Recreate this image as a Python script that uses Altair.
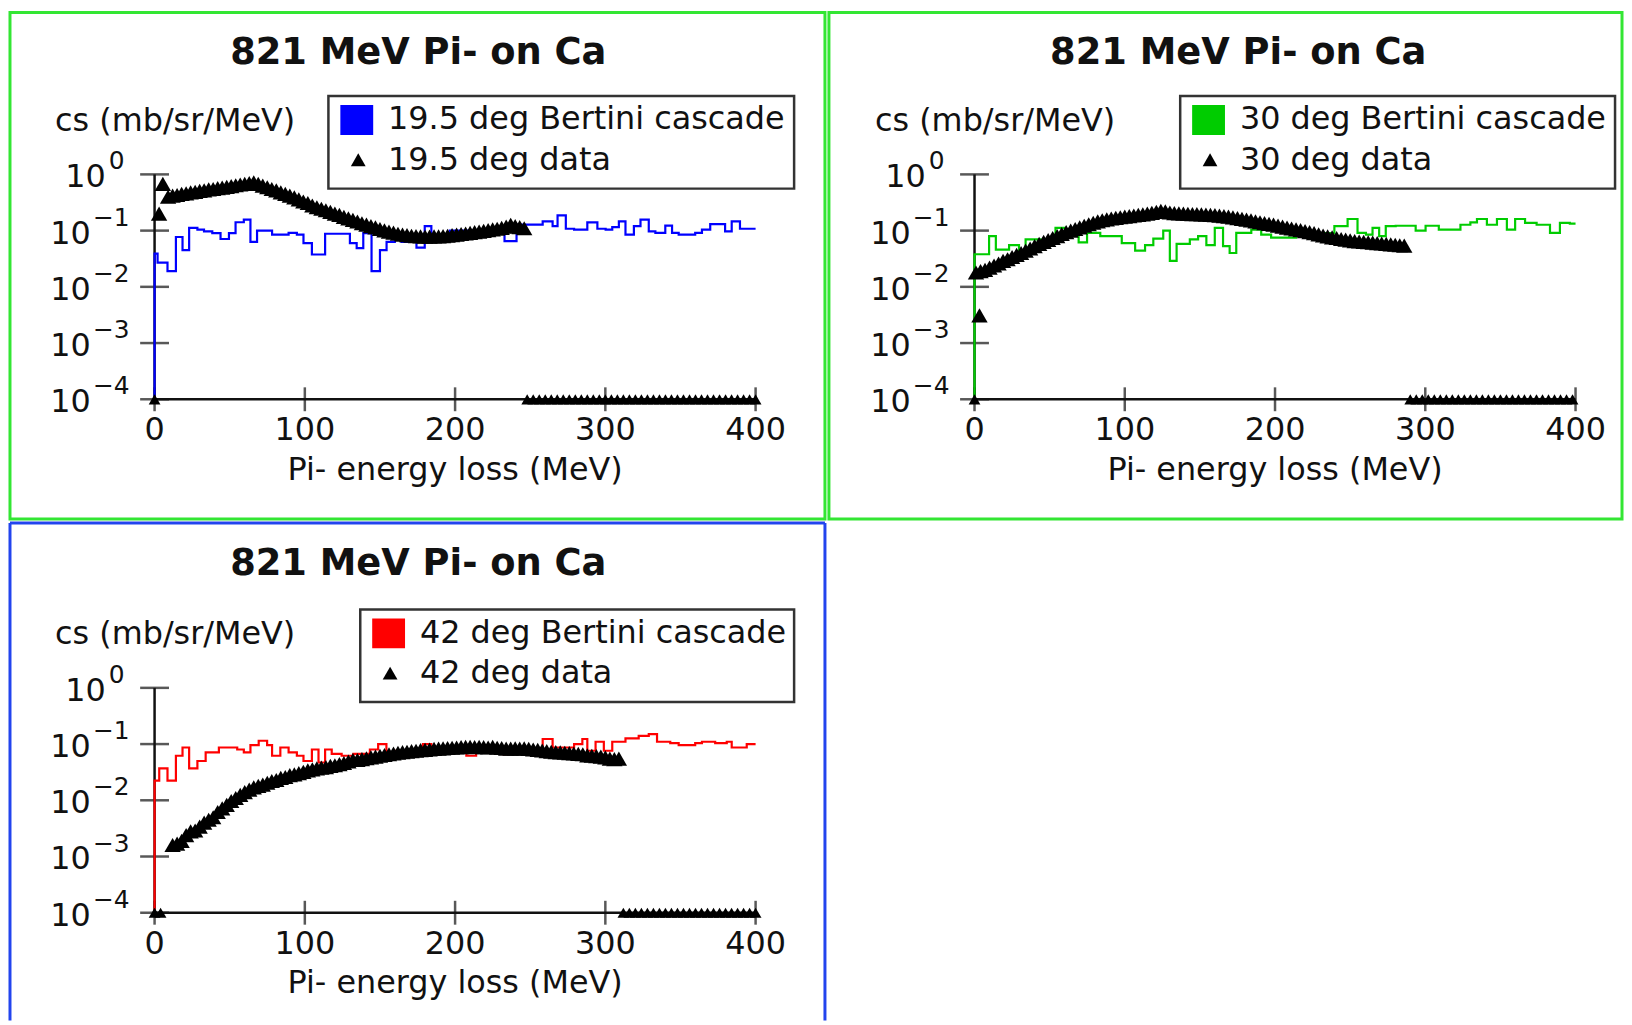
import altair as alt
import pandas as pd

FONT = "DejaVu Sans"
INK = "#111111"

TITLE = "821 MeV Pi- on Ca"
Y_TITLE = "cs (mb/sr/MeV)"
X_TITLE = "Pi- energy loss (MeV)"
X_TICKS = [0, 100, 200, 300, 400]
Y_EXPONENTS = [0, -1, -2, -3, -4]
FLOOR = 1e-4
TOP = 1.0

# ---------------- panel 1: 19.5 deg ----------------
P1_HIST_LABEL = "19.5 deg Bertini cascade"
P1_DATA_LABEL = "19.5 deg data"
P1_HIST_EDGES = [0, 2, 8.6, 14.2, 18.6, 23, 28.5, 32.9, 38.4, 43.9,
                 49.5, 53.9, 59.4, 63.8, 68.2, 78.2, 89.2, 94.7, 99.1, 104.7,
                 113.5, 130, 134.5, 138.9, 144.4, 150, 154.4, 159.9, 164.3, 169.8,
                 174.3, 179.8, 184.2, 190.8, 196.5, 232.9, 240.9, 258.3, 264.9, 268.2,
                 273.7, 279.2, 288, 294.7, 300.2, 304.6, 309, 313.4, 319, 323.4,
                 328.9, 333.3, 339.9, 344.4, 348.8, 359.8, 364.3, 369.8, 379.7, 384.1,
                 389.6]
P1_HIST_VALUES = [0.039, 0.027, 0.019, 0.077, 0.045, 0.112, 0.104, 0.097, 0.09, 0.071,
                  0.09, 0.141, 0.157, 0.063, 0.1, 0.085, 0.091, 0.085, 0.06, 0.0376,
                  0.088, 0.06, 0.049, 0.09, 0.019, 0.045, 0.063, 0.091, 0.063, 0.085,
                  0.05, 0.12, 0.07, 0.085, 0.1, 0.065, 0.128, 0.146, 0.12, 0.187,
                  0.108, 0.104, 0.14, 0.108, 0.104, 0.115, 0.146, 0.085, 0.12, 0.157,
                  0.097, 0.091, 0.123, 0.091, 0.085, 0.091, 0.104, 0.13, 0.097, 0.146,
                  0.108]
P1_DATA_X = [3, 5.5, 9, 12, 15, 18, 21, 24, 27, 30, 33, 36, 39, 42, 45, 48, 51, 54, 57, 60,
             63, 66, 69, 72, 75, 78, 81, 84, 87, 90, 93, 96, 99, 102, 105, 108, 111, 114,
             117, 120, 123, 126, 129, 132, 135, 138, 141, 144, 147, 150, 153, 156, 159,
             162, 165, 168, 171, 174, 177, 180, 183, 186, 189, 192, 195, 198, 201, 204,
             207, 210, 213, 216, 219, 222, 225, 228, 231, 234, 237, 240, 243, 246]
P1_DATA_Y = [0.2, 0.68, 0.40, 0.42, 0.43, 0.45, 0.46, 0.48, 0.49, 0.51, 0.52, 0.54, 0.55,
             0.57, 0.58, 0.60, 0.62, 0.64, 0.66, 0.68, 0.70, 0.72, 0.68, 0.63, 0.59, 0.55,
             0.52, 0.48, 0.45, 0.42, 0.39, 0.36, 0.33, 0.31, 0.28, 0.26, 0.245, 0.23,
             0.215, 0.20, 0.19, 0.175, 0.165, 0.155, 0.145, 0.135, 0.128, 0.12, 0.114,
             0.107, 0.101, 0.096, 0.092, 0.088, 0.085, 0.083, 0.081, 0.08, 0.079, 0.078,
             0.078, 0.079, 0.079, 0.08, 0.081, 0.083, 0.085, 0.087, 0.089, 0.091, 0.094,
             0.096, 0.099, 0.102, 0.105, 0.108, 0.112, 0.118, 0.127, 0.12, 0.115, 0.11]
P1_FLOOR_X = [0, 248, 252, 256, 260, 264, 268, 272, 276, 280, 284, 288, 292, 296, 300,
              304, 308, 312, 316, 320, 324, 328, 332, 336, 340, 344, 348, 352, 356, 360,
              364, 368, 372, 376, 380, 384, 388, 392, 396, 400]

# ---------------- panel 2: 30 deg ----------------
P2_HIST_LABEL = "30 deg Bertini cascade"
P2_DATA_LABEL = "30 deg data"
P2_HIST_EDGES = [0, 9.7, 14.2, 23, 29.6, 34, 43.9, 53.9, 60.5, 69.3,
                 74.9, 83.7, 98, 106.9, 113.5, 119, 125.6, 130, 134.5, 143.3,
                 148.8, 154.3, 159.9, 165.4, 169.8, 174.2, 184.2, 190.8, 197.4, 214,
                 239.5, 248.3, 254.9, 260.5, 264.9, 269.3, 273.7, 280.3, 293.6, 300.2,
                 309, 323.4, 330, 334.4, 341, 347.7, 354.3, 359.8, 366.4, 374.1,
                 383, 389.6, 396.2]
P2_HIST_VALUES = [0.038, 0.08, 0.046, 0.055, 0.044, 0.07, 0.068, 0.112, 0.085, 0.062,
                  0.091, 0.08, 0.06, 0.044, 0.055, 0.072, 0.1, 0.029, 0.058, 0.07,
                  0.08, 0.055, 0.112, 0.053, 0.04, 0.091, 0.104, 0.085, 0.075, 0.09,
                  0.12, 0.161, 0.091, 0.085, 0.112, 0.08, 0.12, 0.122, 0.1, 0.122,
                  0.104, 0.127, 0.14, 0.161, 0.127, 0.161, 0.104, 0.161, 0.137, 0.127,
                  0.091, 0.137, 0.133]
P2_DATA_X = [3.3, 1, 4, 7, 10, 13, 16, 19, 22, 25, 28, 31, 34, 37, 40, 43, 46, 49, 52, 55,
             58, 61, 64, 67, 70, 73, 76, 79, 82, 85, 88, 91, 94, 97, 100, 103, 106, 109,
             112, 115, 118, 121, 124, 127, 130, 133, 136, 139, 142, 145, 148, 151, 154,
             157, 160, 163, 166, 169, 172, 175, 178, 181, 184, 187, 190, 193, 196, 199,
             202, 205, 208, 211, 214, 217, 220, 223, 226, 229, 232, 235, 238, 241, 244,
             247, 250, 253, 256, 259, 262, 265, 268, 271, 274, 277, 280, 283, 286]
P2_DATA_Y = [0.0031, 0.018, 0.019, 0.020, 0.022, 0.024, 0.026, 0.029, 0.031, 0.034, 0.037,
             0.040, 0.044, 0.048, 0.053, 0.058, 0.063, 0.068, 0.074, 0.08, 0.087,
             0.094, 0.10, 0.107, 0.114, 0.122, 0.13, 0.138, 0.146, 0.153, 0.158,
             0.164, 0.168, 0.173, 0.177, 0.181, 0.186, 0.19, 0.195, 0.20, 0.207,
             0.215, 0.225, 0.22, 0.21, 0.205, 0.202, 0.2, 0.198, 0.197, 0.196,
             0.195, 0.193, 0.19, 0.188, 0.185, 0.181, 0.177, 0.172, 0.167, 0.162,
             0.157, 0.152, 0.146, 0.141, 0.136, 0.132, 0.128, 0.123, 0.118, 0.113,
             0.109, 0.105, 0.102, 0.098, 0.094, 0.09, 0.086, 0.082, 0.079, 0.076,
             0.074, 0.071, 0.069, 0.067, 0.065, 0.064, 0.063, 0.062, 0.061, 0.06,
             0.059, 0.058, 0.057, 0.056, 0.055, 0.054]
P2_FLOOR_X = [0, 290, 294, 298, 302, 306, 310, 314, 318, 322, 326, 330, 334, 338, 342,
              346, 350, 354, 358, 362, 366, 370, 374, 378, 382, 386, 390, 394, 398]

# ---------------- panel 3: 42 deg ----------------
P3_HIST_LABEL = "42 deg Bertini cascade"
P3_DATA_LABEL = "42 deg data"
P3_HIST_EDGES = [0, 3.1, 8.6, 14.2, 18.6, 23, 28.5, 34, 42.8, 55,
                 59.4, 63.8, 69.3, 74.9, 78.2, 83.7, 89.2, 94.7, 99.1, 104.7,
                 109.1, 113.5, 117.9, 124.5, 132.3, 143.3, 148.8, 154.3, 158.8, 178.6,
                 184.2, 207.5, 214, 232, 236, 258.3, 264.9, 279.2, 284.7, 288,
                 293.5, 299, 304.6, 313.4, 322.2, 328.9, 334.4, 343.2, 348.8, 359.8,
                 364.3, 373.1, 380.8, 384.1, 394.1]
P3_HIST_VALUES = [0.0224, 0.037, 0.0224, 0.062, 0.087, 0.037, 0.05, 0.071, 0.087, 0.08,
                  0.071, 0.096, 0.1145, 0.096, 0.062, 0.087, 0.071, 0.062, 0.05, 0.08,
                  0.047, 0.08, 0.067, 0.062, 0.067, 0.08, 0.1, 0.071, 0.076, 0.1,
                  0.075, 0.062, 0.08, 0.066, 0.085, 0.123, 0.087, 0.1, 0.123, 0.076,
                  0.11, 0.076, 0.11, 0.126, 0.14, 0.15, 0.11, 0.104, 0.096, 0.104,
                  0.11, 0.104, 0.11, 0.087, 0.1]
P3_DATA_X = [12, 15, 18, 21, 24, 27, 30, 33, 36, 39, 42, 45, 48, 51, 54, 57, 60, 63, 66,
             69, 72, 75, 78, 81, 84, 87, 90, 93, 96, 99, 102, 105, 108, 111, 114, 117,
             120, 123, 126, 129, 132, 135, 138, 141, 144, 147, 150, 153, 156, 159, 162,
             165, 168, 171, 174, 177, 180, 183, 186, 189, 192, 195, 198, 201, 204, 207,
             210, 213, 216, 219, 222, 225, 228, 231, 234, 237, 240, 243, 246, 249, 252,
             255, 258, 261, 264, 267, 270, 273, 276, 279, 282, 285, 288, 291, 294, 297,
             300, 303, 306, 309]
P3_DATA_Y = [0.0016, 0.0017, 0.0019, 0.0024, 0.0028, 0.0029, 0.0034, 0.004, 0.0045, 0.005,
             0.0062, 0.0072, 0.0083, 0.0097, 0.011, 0.0125, 0.014, 0.0155, 0.017, 0.018,
             0.019, 0.0205, 0.022, 0.023, 0.025, 0.026, 0.028, 0.029, 0.0305, 0.032,
             0.034, 0.0355, 0.037, 0.038, 0.039, 0.041, 0.042, 0.044, 0.046, 0.049,
             0.052, 0.052, 0.054, 0.056, 0.058, 0.06, 0.062, 0.064, 0.066, 0.068,
             0.07, 0.072, 0.073, 0.075, 0.076, 0.078, 0.079, 0.08, 0.082, 0.083,
             0.084, 0.085, 0.086, 0.087, 0.088, 0.089, 0.089, 0.088, 0.089, 0.088,
             0.087, 0.089, 0.086, 0.085, 0.083, 0.083, 0.084, 0.083, 0.084, 0.082,
             0.08, 0.079, 0.077, 0.075, 0.073, 0.072, 0.071, 0.07, 0.069, 0.068,
             0.067, 0.066, 0.063, 0.062, 0.061, 0.06, 0.058, 0.055, 0.054, 0.055]
P3_FLOOR_X = [0, 4, 312, 316, 320, 324, 328, 332, 336, 340, 344, 348, 352, 356, 360,
              364, 368, 372, 376, 380, 384, 388, 392, 396, 400]

PX_PER_MEV = 1.51
PX_PER_DECADE = 56.5
FS = 32


def text_layer(text, x, y, size, weight="normal", align="left"):
    return alt.Chart(pd.DataFrame({"t": [text]})).mark_text(
        align=align, baseline="middle", font=FONT, fontSize=size,
        fontWeight=weight, color=INK
    ).encode(x=alt.value(x), y=alt.value(y), text="t:N")


def panel(W, H, x0, y0, hist_edges, hist_vals, color, data_x, data_y, floor_x,
          hist_label, data_label, leg_left, leg_right, border):
    xs = alt.Scale(type="linear", domain=[-x0 / PX_PER_MEV, (W - x0) / PX_PER_MEV],
                   nice=False, zero=False)
    ys = alt.Scale(type="log", domain=[10 ** (-(H - y0) / PX_PER_DECADE),
                                       10 ** (y0 / PX_PER_DECADE)], nice=False)

    def X(f):
        return alt.X(f, scale=xs, axis=None)

    def Y(f):
        return alt.Y(f, scale=ys, axis=None)

    def XD(v):
        return alt.XDatum(v, scale=xs, axis=None)

    def YD(v):
        return alt.YDatum(v, scale=ys, axis=None)

    hx = [0.0] + list(hist_edges) + [400.0]
    hy = [FLOOR] + list(hist_vals) + [hist_vals[-1]]
    hist_df = pd.DataFrame({"x": hx, "y": hy, "i": list(range(len(hx)))})
    data_df = pd.DataFrame({"x": data_x, "y": data_y})
    floor_df = pd.DataFrame({"x": floor_x})
    xt_df = pd.DataFrame({"x": X_TICKS, "lab": [str(v) for v in X_TICKS]})
    yt_df = pd.DataFrame({"e": Y_EXPONENTS,
                          "y": [10.0 ** e for e in Y_EXPONENTS],
                          "exp": [("\u2212" + str(-e)) if e < 0 else str(e) for e in Y_EXPONENTS]})
    one = pd.DataFrame({"a": [0]})

    layers = []
    # axes lines
    layers.append(alt.Chart(one).mark_rule(color=INK, strokeWidth=2.5).encode(
        x=XD(0), y=YD(FLOOR), y2=alt.Y2Datum(TOP)))
    layers.append(alt.Chart(one).mark_rule(color=INK, strokeWidth=2.5).encode(
        x=XD(X_TICKS[0]), x2=alt.X2Datum(X_TICKS[-1]), y=YD(FLOOR)))
    # ticks
    layers.append(alt.Chart(yt_df).mark_tick(orient="horizontal", size=29, thickness=2.5,
                                             color=INK).encode(x=XD(0), y=Y("y:Q")))
    layers.append(alt.Chart(xt_df).mark_tick(orient="vertical", size=24, thickness=2.5,
                                             color=INK).encode(x=X("x:Q"), y=YD(FLOOR)))
    # tick labels
    layers.append(alt.Chart(xt_df).mark_text(font=FONT, fontSize=FS, color=INK,
                                             baseline="middle", dy=31).encode(
        x=X("x:Q"), y=YD(FLOOR), text="lab:N"))
    yt0 = yt_df[yt_df["e"] == 0]
    ytn = yt_df[yt_df["e"] < 0]
    layers.append(alt.Chart(yt0).mark_text(font=FONT, fontSize=FS, color=INK, align="right",
                                           baseline="middle", dx=-49, dy=3).encode(
        x=XD(0), y=Y("y:Q"), text=alt.value("10")))
    layers.append(alt.Chart(ytn).mark_text(font=FONT, fontSize=FS, color=INK, align="right",
                                           baseline="middle", dx=-64, dy=3).encode(
        x=XD(0), y=Y("y:Q"), text=alt.value("10")))
    layers.append(alt.Chart(yt0).mark_text(font=FONT, fontSize=25, color=INK, align="left",
                                           baseline="middle", dx=-46, dy=-13).encode(
        x=XD(0), y=Y("y:Q"), text="exp:N"))
    layers.append(alt.Chart(ytn).mark_text(font=FONT, fontSize=25, color=INK, align="left",
                                           baseline="middle", dx=-62, dy=-13).encode(
        x=XD(0), y=Y("y:Q"), text="exp:N"))
    # axis titles
    layers.append(alt.Chart(pd.DataFrame({"t": [X_TITLE]})).mark_text(
        font=FONT, fontSize=FS, color=INK, baseline="middle", dy=71).encode(
        x=XD(200), y=YD(FLOOR), text="t:N"))
    layers.append(text_layer(Y_TITLE, x0 - 100, y0 - 54, FS))
    # title
    layers.append(text_layer(TITLE, x0 + 265, 41, 37, weight="bold", align="center"))
    # histogram
    layers.append(alt.Chart(hist_df).mark_line(interpolate="step-after", strokeWidth=2.2,
                                               color=color).encode(
        x=X("x:Q"), y=Y("y:Q"), order="i:Q"))
    # data points
    layers.append(alt.Chart(data_df).mark_point(shape="triangle-up", filled=True, size=270,
                                                color="#000000", opacity=1).encode(
        x=X("x:Q"), y=Y("y:Q")))
    layers.append(alt.Chart(floor_df).mark_point(shape="triangle-up", filled=True, size=140,
                                                 color="#000000", opacity=1).encode(
        x=X("x:Q"), y=YD(FLOOR)))
    # legend
    T = y0 - 78.7
    B = y0 + 14.3
    layers.append(alt.Chart(one).mark_rect(fillOpacity=0, stroke="#333333",
                                           strokeWidth=2.5).encode(
        x=alt.value(leg_left), x2=alt.value(leg_right), y=alt.value(T), y2=alt.value(B)))
    layers.append(alt.Chart(one).mark_rect(color=color).encode(
        x=alt.value(leg_left + 12), x2=alt.value(leg_left + 45),
        y=alt.value(T + 9), y2=alt.value(T + 39)))
    layers.append(alt.Chart(one).mark_point(shape="triangle-up", filled=True, size=220,
                                            color="#000000", opacity=1).encode(
        x=alt.value(leg_left + 30), y=alt.value(T + 64)))
    layers.append(text_layer(hist_label, leg_left + 60, T + 23.5, FS))
    layers.append(text_layer(data_label, leg_left + 60, T + 64, FS))

    # border
    if border[1]:
        ch = alt.layer(*layers).properties(
            width=W, height=H,
            view=alt.ViewBackground(stroke=border[0], strokeWidth=3))
    else:
        layers.append(alt.Chart(one).mark_rule(color=border[0], strokeWidth=3).encode(
            x=alt.value(0), y=alt.value(0), y2=alt.value(H)))
        layers.append(alt.Chart(one).mark_rule(color=border[0], strokeWidth=3).encode(
            x=alt.value(W), y=alt.value(0), y2=alt.value(H)))
        layers.append(alt.Chart(one).mark_rule(color=border[0], strokeWidth=3).encode(
            x=alt.value(0), x2=alt.value(W), y=alt.value(0)))
        ch = alt.layer(*layers).properties(width=W, height=H)
    return ch


GREEN_BORDER = "#33e633"
BLUE_BORDER = "#2244ee"

p1 = panel(819, 509, 145.3, 162.7, P1_HIST_EDGES, P1_HIST_VALUES, "#0000ff",
           P1_DATA_X, P1_DATA_Y, P1_FLOOR_X, P1_HIST_LABEL, P1_DATA_LABEL,
           145.3 + 174.7, 145.3 + 642.7, (GREEN_BORDER, True))
p2 = panel(797, 509, 146.3, 162.7, P2_HIST_EDGES, P2_HIST_VALUES, "#00cc00",
           P2_DATA_X, P2_DATA_Y, P2_FLOOR_X, P2_HIST_LABEL, P2_DATA_LABEL,
           146.3 + 206.7, 146.3 + 643.7, (GREEN_BORDER, True))
p3 = panel(819, 500, 145.3, 165.7, P3_HIST_EDGES, P3_HIST_VALUES, "#ff0000",
           P3_DATA_X, P3_DATA_Y, P3_FLOOR_X, P3_HIST_LABEL, P3_DATA_LABEL,
           145.3 + 206.7, 145.3 + 642.7, (BLUE_BORDER, False))

chart = alt.vconcat(alt.hconcat(p1, p2, spacing=0), p3, spacing=0).properties(
    padding=0, background="white"
).configure_view(stroke=None)

chart.save("out.html", embed_options={"renderer": "svg", "actions": False})
